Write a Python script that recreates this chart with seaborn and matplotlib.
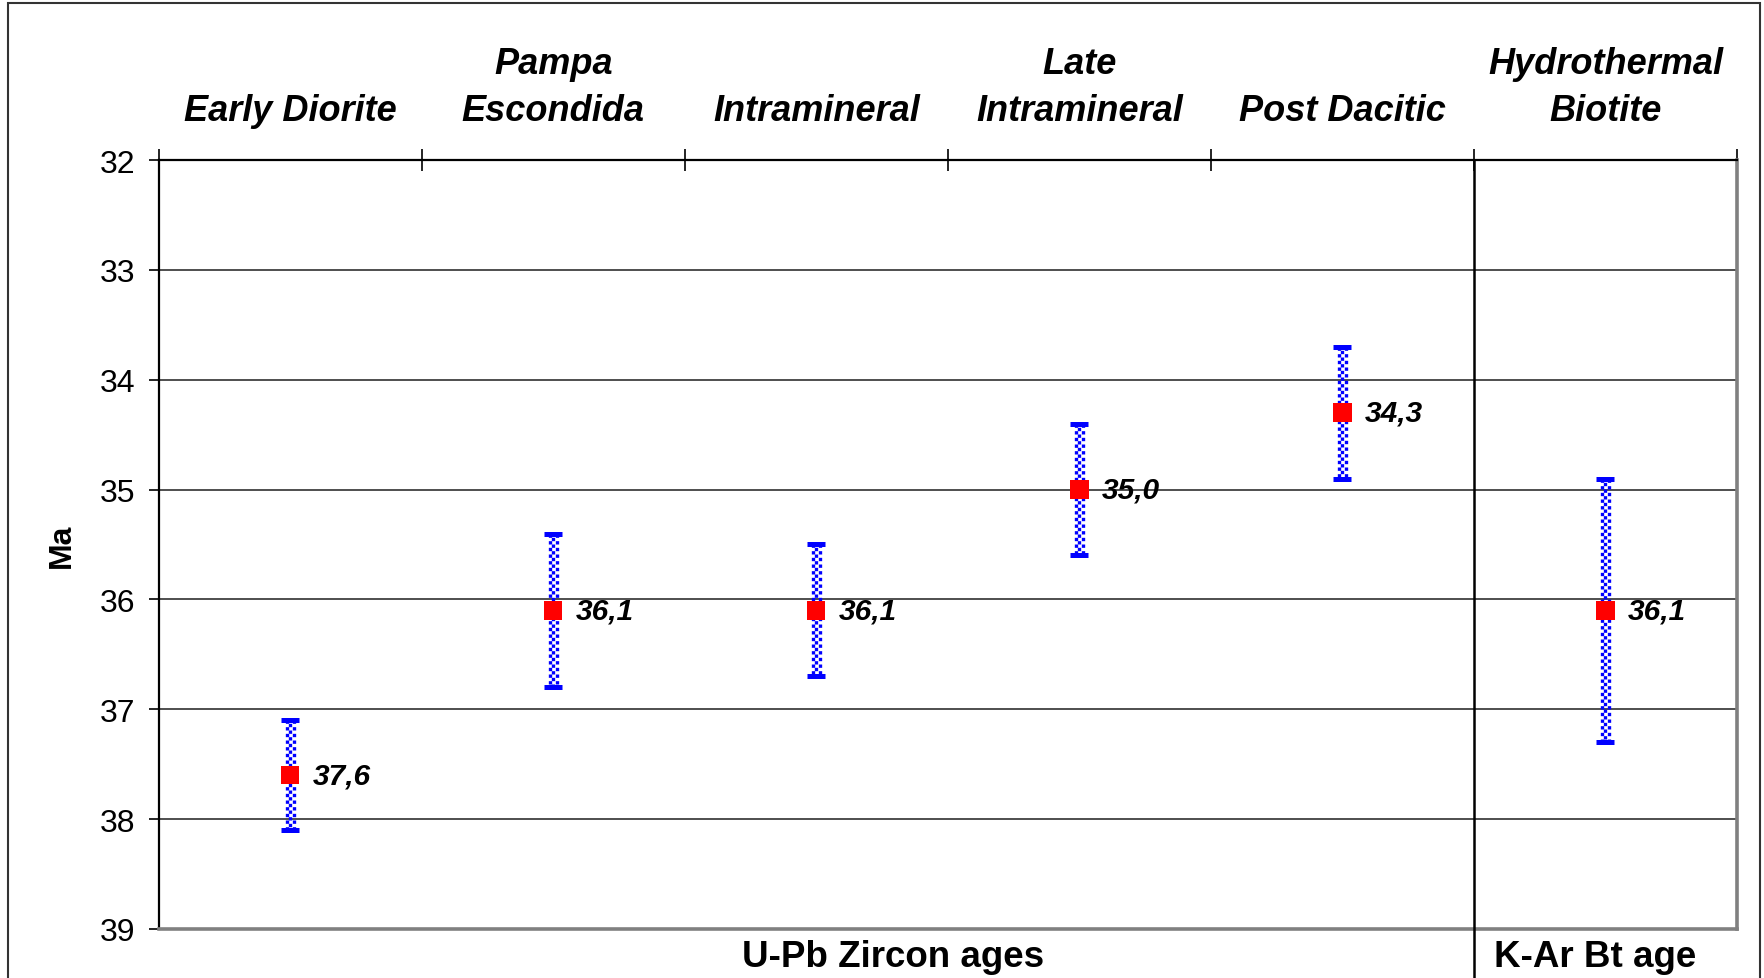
import matplotlib
matplotlib.use("Agg")
import matplotlib.pyplot as plt
import matplotlib.transforms as mtransforms
from matplotlib.patches import Rectangle
import seaborn as sns
import pandas as pd

categories = ["Early Diorite", "Pampa\nEscondida", "Intramineral",
              "Late\nIntramineral", "Post Dacitic", "Hydrothermal\nBiotite"]
ages = [37.6, 36.1, 36.1, 35.0, 34.3, 36.1]
errors = [0.5, 0.7, 0.6, 0.6, 0.6, 1.2]
age_labels = ["37,6", "36,1", "36,1", "35,0", "34,3", "36,1"]
y_ticks = [32, 33, 34, 35, 36, 37, 38, 39]
group_labels = ["U-Pb Zircon ages", "K-Ar Bt age"]

df = pd.DataFrame({"cat": categories, "age": ages, "err": errors, "label": age_labels})
df["x"] = range(len(df))

sns.set_theme(style="white")
plt.rcParams["font.family"] = ["Liberation Sans", "DejaVu Sans"]
plt.rcParams["text.color"] = "black"
plt.rcParams["xtick.color"] = "black"
plt.rcParams["ytick.color"] = "black"

fig = plt.figure(figsize=(17.65, 9.79), dpi=100)
ax = fig.add_axes([0.0899, 0.0501, 0.8942, 0.7854])

# checkered error bars: three thin dotted columns with alternating phase
lo = df["age"] - df["err"]
hi = df["age"] + df["err"]
for off, phase in [(-2.4, 0), (0, 1), (2.4, 0)]:
    tr = mtransforms.offset_copy(ax.transData, fig=fig, x=off, y=0, units="points")
    ax.vlines(df["x"], lo, hi, colors="#0000ff", linewidth=2.4,
              linestyles=[(phase, (1, 1))], transform=tr, zorder=3)
ax.errorbar(df["x"], df["age"], yerr=df["err"], fmt="none", ecolor="#0000ff",
            elinewidth=0, capsize=6.5, capthick=3.6, zorder=3)

sns.scatterplot(data=df, x="x", y="age", marker="s", s=175, color="#ff0000",
                edgecolor="none", ax=ax, zorder=4)

for _, r in df.iterrows():
    ax.annotate(r["label"], (r["x"], r["age"]), xytext=(16, 0),
                textcoords="offset points", ha="left", va="center",
                fontsize=21.5, fontweight="bold", fontstyle="italic", color="black")

ax.set_xlim(-0.5, 5.5)
ax.set_ylim(39, 32)
ax.set_yticks(y_ticks)
ax.set_yticklabels([str(t) for t in y_ticks], fontsize=23, color="black")
ax.tick_params(axis="y", which="major", left=True, length=7, width=1.2,
               color="black", pad=10, direction="out")

ax.set_xticks(df["x"])
ax.set_xticklabels(df["cat"], fontsize=26, fontweight="bold", fontstyle="italic",
                   linespacing=1.45, color="black")
ax.set_xticks([i - 0.5 for i in range(len(df) + 1)], minor=True)
ax.tick_params(axis="x", which="major", bottom=False, top=True, labelbottom=False,
               labeltop=True, length=0, pad=23)
ax.tick_params(axis="x", which="minor", bottom=False, top=True, length=16,
               width=1.2, color="black", direction="inout")

ax.set_xlabel("")
ax.set_ylabel("")
ax.yaxis.grid(True, color="#404040", linewidth=1.3)
ax.xaxis.grid(False)

ax.spines["top"].set_color("black")
ax.spines["top"].set_linewidth(1.6)
ax.spines["left"].set_color("black")
ax.spines["left"].set_linewidth(1.6)
ax.spines["bottom"].set_color("#808080")
ax.spines["bottom"].set_linewidth(2.6)
ax.spines["right"].set_color("#808080")
ax.spines["right"].set_linewidth(2.6)

# divider between U-Pb and K-Ar groups
ax.axvline(4.5, ymin=-0.08, ymax=1, color="black", linewidth=1.8, clip_on=False, zorder=5)

blend = mtransforms.blended_transform_factory(ax.transData, fig.transFigure)
ax.text(2.29, 1 - 958 / 979, group_labels[0], transform=blend, ha="center",
        va="center", fontsize=26.5, fontweight="bold", color="black")
ax.text(4.96, 1 - 958 / 979, group_labels[1], transform=blend, ha="center",
        va="center", fontsize=26.5, fontweight="bold", color="black")

fig.text(62 / 1765, 1 - 546 / 979, "Ma", rotation=90, ha="center", va="center",
         fontsize=23, fontweight="bold", color="black")

fig.patches.append(Rectangle((8 / 1765, -0.02), 1752 / 1765, 1.02 - 4 / 979,
                             transform=fig.transFigure, fill=False,
                             edgecolor="#333333", linewidth=1.5))

fig.savefig("out.png", dpi=100)
plt.close(fig)
